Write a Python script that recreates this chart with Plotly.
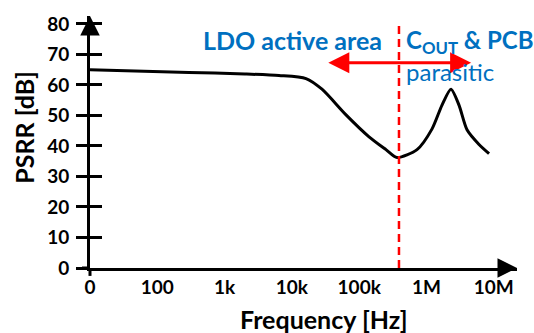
import math
import plotly.graph_objects as go

# ---- data ----
freq_hz = [10, 296, 2000, 6430, 16200, 28000, 63700, 140000, 250000, 365000,
           723000, 1210000, 1700000, 2310000, 3040000, 4000000, 6030000, 8500000]
psrr_db = [65.0, 64.1, 63.6, 63.1, 62.1, 58.6, 50.2, 43.0, 38.8, 36.2,
           38.8, 45.6, 53.4, 58.6, 53.4, 45.3, 40.5, 37.5]

x_tick_vals = [10, 100, 1e3, 1e4, 1e5, 1e6, 1e7]
x_tick_text = ["0", "100", "1k", "10k", "100k", "1M", "10M"]
y_tick_vals = [0, 10, 20, 30, 40, 50, 60, 70, 80]

boundary_hz = 390000
arrow_left_hz = 33000
arrow_right_hz = 4.6e6
arrow_db = 67.3
dash_top_db = 79.7

FONT = "Lato"
BLUE = "#0070C0"
RED = "#FF0000"

W, H = 534, 333
L, R, T, B = 90, 17, 13, 65
pw, ph = W - L - R, H - T - B
x_range = [1, 1 + pw / 67.3]
y_range = [0, 82.6]


def px(xp):
    return (xp - L) / pw


def py(yp):
    return (H - B - yp) / ph


fig = go.Figure()
fig.add_trace(go.Scatter(x=freq_hz, y=psrr_db, mode="lines",
                         line=dict(color="black", width=3, shape="spline", smoothing=0.7),
                         showlegend=False, hoverinfo="skip"))
fig.add_trace(go.Scatter(x=[boundary_hz, boundary_hz], y=[0, dash_top_db], mode="lines",
                         line=dict(color=RED, width=2.5, dash="8px,5px"),
                         showlegend=False, hoverinfo="skip"))

fig.update_layout(
    width=W, height=H,
    margin=dict(l=L, r=R, t=T, b=B),
    paper_bgcolor="white", plot_bgcolor="white",
    font=dict(family=FONT, color="black"),
    xaxis=dict(type="log", range=x_range, showgrid=False, zeroline=False,
               showline=True, linewidth=3, linecolor="black", ticks="",
               tickvals=x_tick_vals, ticktext=x_tick_text,
               tickfont=dict(family=FONT, size=19, weight="bold")),
    yaxis=dict(range=y_range, showgrid=False, zeroline=False,
               showline=True, linewidth=3, linecolor="black",
               ticks="outside", ticklen=11, tickwidth=3, tickcolor="black",
               tickvals=y_tick_vals, ticklabelstandoff=3,
               tickfont=dict(family=FONT, size=19, weight="bold")),
    yaxis2=dict(range=y_range, overlaying="y", anchor="x", side="left",
                showgrid=False, zeroline=False, showline=False,
                ticks="inside", ticklen=12, tickwidth=3, tickcolor="black",
                tickvals=y_tick_vals, showticklabels=False),
)

# invisible trace to keep yaxis2 alive
fig.add_trace(go.Scatter(x=[10], y=[0], yaxis="y2", mode="markers",
                         marker=dict(opacity=0), showlegend=False, hoverinfo="skip"))

# axis extensions (cross at origin)
fig.add_shape(type="line", xref="paper", yref="paper", x0=-8 / pw, x1=0, y0=0, y1=0,
              line=dict(color="black", width=3))
fig.add_shape(type="line", xref="paper", yref="paper", x0=0, x1=0, y0=-8 / ph, y1=0,
              line=dict(color="black", width=3))

# axis arrowheads
fig.add_annotation(xref="paper", yref="paper", x=0, y=1, ax=0, ay=14, text="",
                   showarrow=True, arrowhead=2, arrowsize=1.3, arrowwidth=3, arrowcolor="black")
fig.add_annotation(xref="paper", yref="paper", x=1, y=0, ax=-14, ay=0, text="",
                   showarrow=True, arrowhead=2, arrowsize=1.3, arrowwidth=3, arrowcolor="black")

# red double arrow
fig.add_annotation(x=math.log10(arrow_right_hz), y=arrow_db,
                   ax=math.log10(arrow_left_hz), ay=arrow_db, axref="x", ayref="y",
                   text="", showarrow=True, arrowhead=2, arrowside="end+start",
                   arrowsize=1.4, arrowwidth=3, arrowcolor=RED)

# axis titles
fig.add_annotation(xref="paper", yref="paper", x=px(324), y=py(320),
                   text="<b>Frequency [Hz]</b>", showarrow=False, xanchor="center", yanchor="middle",
                   font=dict(family=FONT, size=25, color="black"))
fig.add_annotation(xref="paper", yref="paper", x=px(24), y=py(126), textangle=-90,
                   text="<b>PSRR [dB]</b>", showarrow=False, xanchor="center", yanchor="middle",
                   font=dict(family=FONT, size=25, color="black"))

# texts
fig.add_annotation(xref="paper", yref="paper", x=px(292), y=py(37),
                   text="<b>LDO active area</b>", showarrow=False, xanchor="center", yanchor="middle",
                   font=dict(family=FONT, size=25, color=BLUE))
fig.add_annotation(xref="paper", yref="paper", x=px(404), y=py(39),
                   text="<b>C<sub>OUT</sub> & PCB</b>", showarrow=False, xanchor="left", yanchor="middle",
                   font=dict(family=FONT, size=24, color=BLUE))
fig.add_annotation(xref="paper", yref="paper", x=px(404), y=py(69),
                   text="parasitic", showarrow=False, xanchor="left", yanchor="middle",
                   font=dict(family=FONT, size=24, color=BLUE))

fig.write_html("out.html")
